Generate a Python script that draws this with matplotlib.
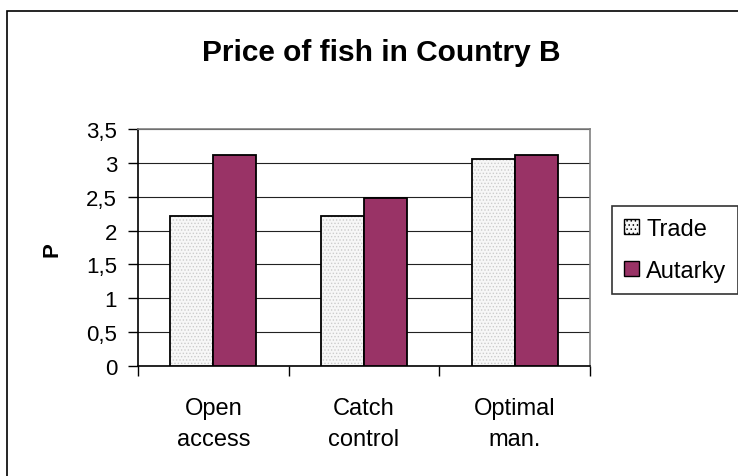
import numpy as np
import matplotlib
matplotlib.use("Agg")
import matplotlib.pyplot as plt
from matplotlib.patches import Rectangle, Patch

plt.rcParams['font.family'] = ['Liberation Sans', 'DejaVu Sans']
plt.rcParams['hatch.linewidth'] = 0.6

# price data per management regime
categories = ['Open\naccess', 'Catch\ncontrol', 'Optimal\nman.']
trade = [2.22, 2.22, 3.05]
autarky = [3.12, 2.48, 3.12]

trade_color = '#f7f7f7'
autarky_color = '#993366'

fig = plt.figure(figsize=(7.38, 4.77), dpi=100)
W, H = 738, 477

# outer chart frame
fig.patches.append(Rectangle((7 / W, -0.1), 1.2, 1 - 12 / H + 0.1,
                             transform=fig.transFigure, fill=False,
                             edgecolor='black', linewidth=1.2, zorder=0))

ax = fig.add_axes([138 / W, 1 - 367 / H, (590 - 138) / W, (367 - 130) / H])

x = np.arange(len(categories))
w = 1 / 3.5

# dotted fill for trade bars, then outlines on top
ax.bar(x - w / 2, trade, w, color=trade_color, edgecolor='#cccccc',
       hatch='.....', linewidth=0, zorder=3)
ax.bar(x - w / 2, trade, w, fill=False, edgecolor='black', linewidth=1.3, zorder=4)
ax.bar(x + w / 2, autarky, w, color=autarky_color, edgecolor='black',
       linewidth=1.3, zorder=4)

ax.set_xlim(-0.5, 2.5)
ax.set_ylim(0, 3.5)
ax.set_yticks(np.arange(0, 3.51, 0.5))
ax.set_yticklabels(['0', '0,5', '1', '1,5', '2', '2,5', '3', '3,5'], fontsize=16)
ax.yaxis.grid(True, color='#222222', linewidth=0.8, zorder=1)
ax.set_axisbelow(True)

ax.set_xticks([-0.5, 0.5, 1.5, 2.5])
ax.set_xticklabels([])
ax.set_xticks(x, minor=True)
ax.set_xticklabels(categories, minor=True, fontsize=17, linespacing=1.55)
ax.tick_params(axis='x', which='major', direction='out', length=7, width=1, color='black')
ax.tick_params(axis='x', which='minor', length=0, pad=22)
ax.tick_params(axis='y', direction='out', length=7, width=1, pad=8)

for side in ['top', 'right']:
    ax.spines[side].set_color('#808080')
    ax.spines[side].set_linewidth(1.2)
for side in ['left', 'bottom']:
    ax.spines[side].set_color('black')
    ax.spines[side].set_linewidth(1.2)

fig.text(52 / W, 1 - 250 / H, 'P', rotation=90, fontsize=16, fontweight='bold',
         ha='center', va='center')
fig.text(381 / W, 1 - 53 / H, 'Price of fish in Country B', fontsize=21.5,
         fontweight='bold', ha='center', va='center')

handles = [Patch(facecolor=trade_color, edgecolor='black', hatch='....', linewidth=1),
           Patch(facecolor=autarky_color, edgecolor='black', linewidth=1)]
leg = fig.legend(handles, ['Trade', 'Autarky'], loc='upper left',
                 bbox_to_anchor=(612 / W, 1 - 207 / H), fontsize=17,
                 frameon=True, fancybox=False, handlelength=0.65, handleheight=0.65,
                 handletextpad=0.3, borderpad=0.5, labelspacing=0.85,
                 borderaxespad=0)
leg.get_frame().set_edgecolor('black')
leg.get_frame().set_linewidth(1.2)

fig.savefig('out.png', dpi=100)
